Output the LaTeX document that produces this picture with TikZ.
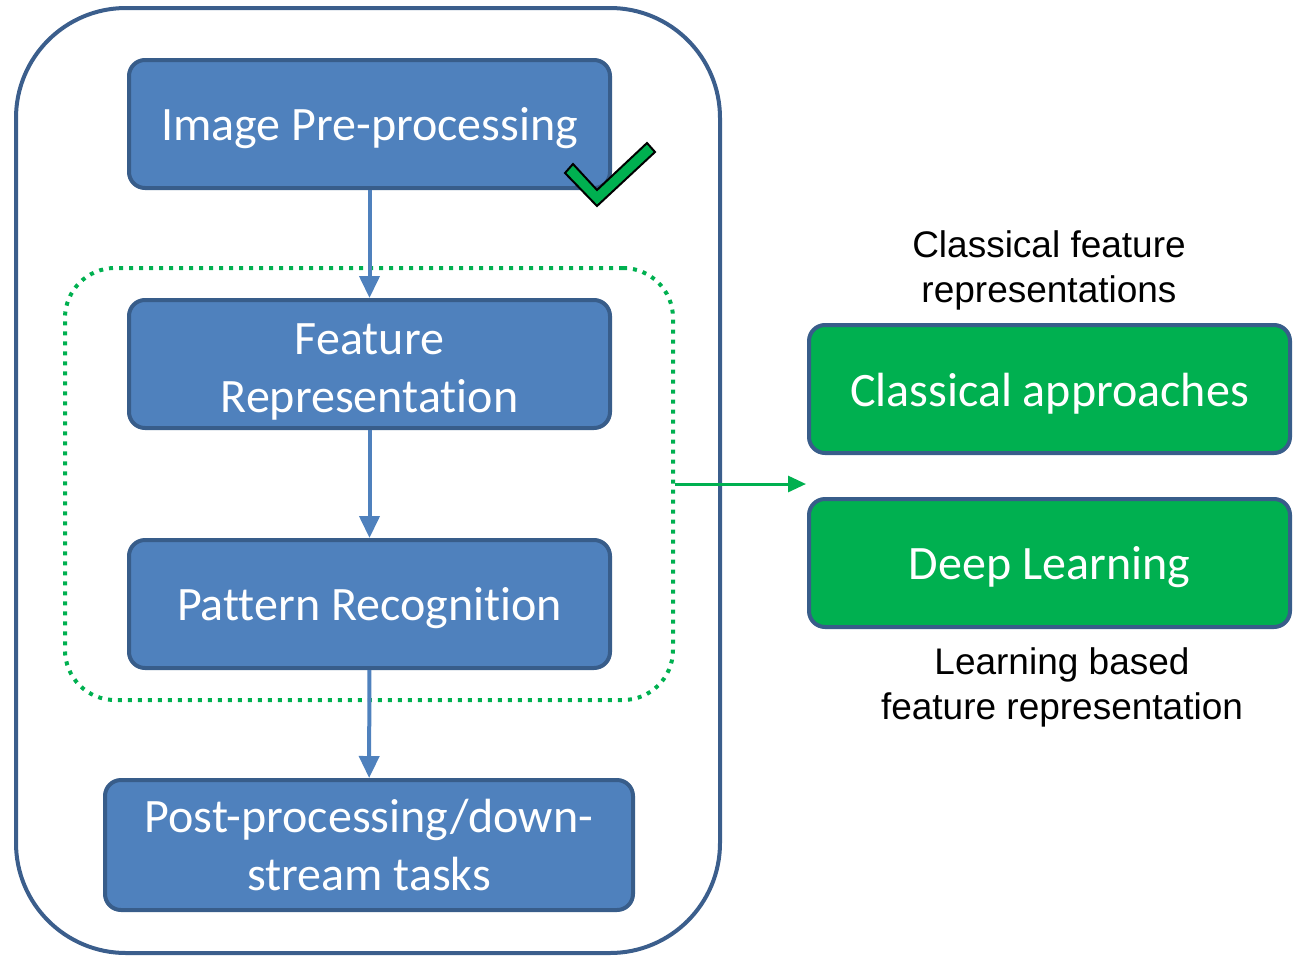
\documentclass[tikz,border=0pt]{standalone}
\usepackage{fontspec}
\setmainfont{Carlito}[Ligatures=NoCommon]
\newfontfamily\labelfont{Liberation Sans}
\usetikzlibrary{positioning, arrows.meta}
\definecolor{stepblue}{RGB}{79,129,189}
\definecolor{stepedge}{RGB}{56,93,138}
\definecolor{framedge}{RGB}{59,94,140}
\definecolor{approachgreen}{RGB}{0,176,80}
\newcommand{\boxstrut}[1]{\rule{0pt}{#1}}

\begin{document}
\begin{tikzpicture}[
    x=1pt, y=-1pt,
    stepbox/.style={draw=stepedge, fill=stepblue, line width=4pt, rounded corners=16pt, minimum width=481pt, minimum height=128pt, align=center, text=white, font=\fontsize{48}{58}\selectfont},
    greenbox/.style={stepbox, fill=approachgreen},
    sidelabel/.style={align=center, font=\labelfont\fontsize{37}{45}\selectfont},
    flow/.style={-{Triangle[width=20pt,length=22pt]}, stepblue, line width=4pt},
    greenarrow/.style={-{Triangle[width=16pt,length=18pt]}, approachgreen, line width=3pt}
]
\useasboundingbox (0,0) rectangle (1293,956);

% Outer frame and feature group
\node[draw=framedge, line width=4pt, rounded corners=110pt, minimum width=704pt, minimum height=945pt] (frame) at (368,480.5) {};
\node[draw=approachgreen, line width=4pt, dash pattern=on 4pt off 6pt, rounded corners=50pt, minimum width=608pt, minimum height=432pt] (group) at (369,484) {};

% Pipeline steps
\node[stepbox] (pre) at (369.5,124) {\boxstrut{42pt}Image Pre-processing};
\node[stepbox] (feat) at (369.5,364) {\boxstrut{46pt}Feature\\Representation};
\node[stepbox] (pat) at (369.5,604) {\boxstrut{42pt}Pattern Recognition};
\node[stepbox, minimum width=528pt, minimum height=130pt] (post) at (369,845) {Post-processing/down-\\stream tasks};

\draw[flow] (pre) -- (feat);
\draw[flow] (feat) -- (pat);
\draw[flow] (pat) -- (post);

% Check mark
\draw[fill=approachgreen, line width=2pt, line join=miter] (565,173) -- (573,164) -- (597,190) -- (647,143) -- (655,152) -- (597,206) -- cycle;

% Approaches
\node[greenbox] (classic) at (1049.5,389) {\boxstrut{42pt}Classical approaches};
\node[greenbox] (deep) at (1049.5,563) {\boxstrut{42pt}Deep Learning};
\node[sidelabel] (classiclbl) at (1049,270) {Classical feature\\representations};
\node[sidelabel] (deeplbl) at (1062,687) {Learning based\\feature representation};

\coordinate (tip) at (806,484);
\draw[greenarrow] (group.east) -- (tip);

\end{tikzpicture}
\end{document}
